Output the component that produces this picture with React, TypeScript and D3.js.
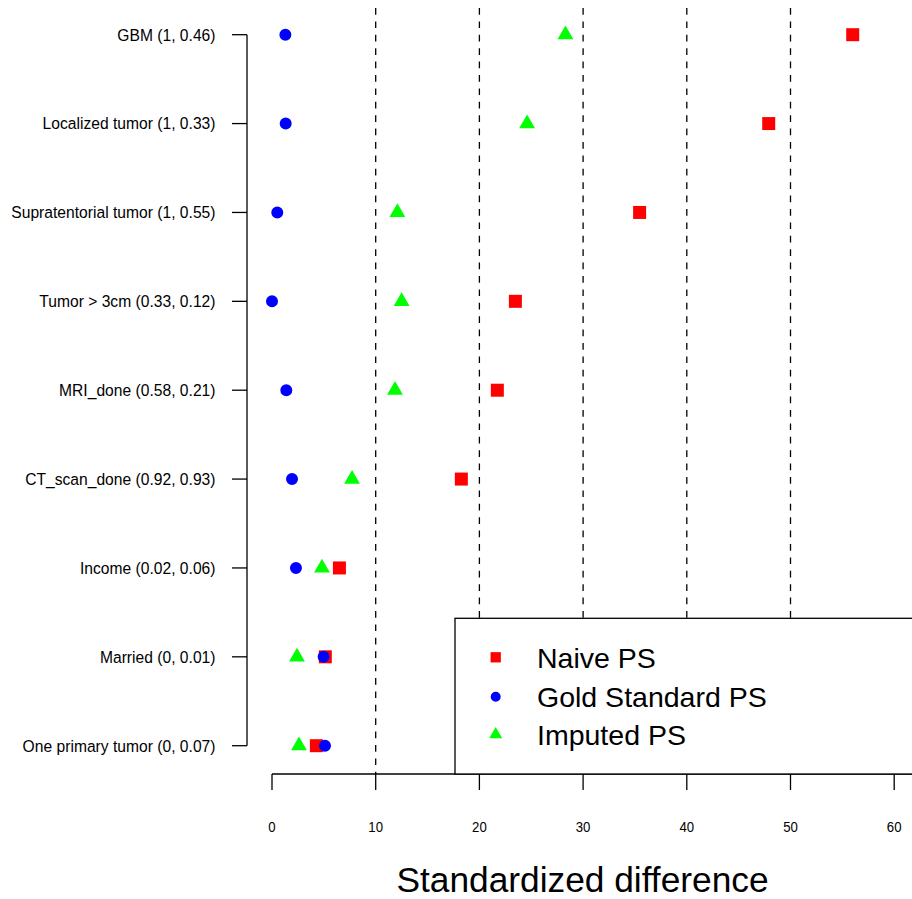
import React from "react";
import * as d3 from "d3";

const categories = [
  "GBM (1, 0.46)",
  "Localized tumor (1, 0.33)",
  "Supratentorial tumor (1, 0.55)",
  "Tumor > 3cm (0.33, 0.12)",
  "MRI_done (0.58, 0.21)",
  "CT_scan_done (0.92, 0.93)",
  "Income (0.02, 0.06)",
  "Married (0, 0.01)",
  "One primary tumor (0, 0.07)",
];
const naivePS = [56.0, 47.9, 35.45, 23.47, 21.73, 18.26, 6.5, 5.14, 4.28];
const goldPS = [1.29, 1.32, 0.51, 0.0, 1.38, 1.93, 2.31, 4.98, 5.11];
const imputedPS = [28.3, 24.6, 12.09, 12.5, 11.86, 7.72, 4.82, 2.41, 2.6];
const xTicks = [0, 10, 20, 30, 40, 50, 60];
const refLines = [10, 20, 30, 40, 50];
const legendLabels = ["Naive PS", "Gold Standard PS", "Imputed PS"];

const RED = "#FF0000";
const BLUE = "#0000FF";
const GREEN = "#00FF00";
const FONT = "'Liberation Sans', Arial, Helvetica, sans-serif";

export default function App() {
  const W = 912;
  const H = 899;
  const x = d3.scaleLinear().domain([0, 60]).range([272, 894.2]);
  const y = d3
    .scaleLinear()
    .domain([0, categories.length - 1])
    .range([34.7, 745.7]);
  const axisY = 774;
  const yAxisX = 247;
  const plotTop = 8;

  const sq = d3.symbol().type(d3.symbolSquare).size(169)();
  const circ = d3.symbol().type(d3.symbolCircle).size(113)();
  const tri = d3.symbol().type(d3.symbolTriangle).size(108.5)();
  const sqL = d3.symbol().type(d3.symbolSquare).size(106)();
  const circL = d3.symbol().type(d3.symbolCircle).size(78.5)();
  const triL = d3.symbol().type(d3.symbolTriangle).size(73)();

  const legendMarkers = [
    { path: sqL, color: RED },
    { path: circL, color: BLUE },
    { path: triL, color: GREEN },
  ];
  const legendY = [657.3, 696.7, 734.5];

  return (
    <svg
      width={W}
      height={H}
      style={{ display: "block", position: "absolute", left: 0, top: 0, background: "#fff" }}
      fontFamily={FONT}
    >
      <rect x={0} y={0} width={W} height={H} fill="#fff" />
      {refLines.map((v) => (
        <line
          key={"r" + v}
          x1={x(v)}
          x2={x(v)}
          y1={plotTop}
          y2={axisY}
          stroke="#000"
          strokeWidth={1.3}
          strokeDasharray="6.7,6.7"
        />
      ))}

      <line x1={yAxisX} x2={yAxisX} y1={y(0)} y2={y(categories.length - 1)} stroke="#000" strokeWidth={1.3} />
      {categories.map((c, i) => (
        <g key={c}>
          <line x1={yAxisX - 15} x2={yAxisX} y1={y(i)} y2={y(i)} stroke="#000" strokeWidth={1.3} />
          <text
            transform={`translate(215.5,${y(i) + 5.8}) scale(0.92,1)`}
            textAnchor="end"
            fontSize={17}
            fill="#000"
          >
            {c}
          </text>
        </g>
      ))}

      <line x1={x(0)} x2={W + 10} y1={axisY} y2={axisY} stroke="#000" strokeWidth={1.3} />
      {xTicks.map((t) => (
        <g key={"t" + t}>
          <line x1={x(t)} x2={x(t)} y1={axisY} y2={axisY + 16} stroke="#000" strokeWidth={1.3} />
          <text
            transform={`translate(${x(t)},832) scale(0.85,1)`}
            textAnchor="middle"
            fontSize={15.5}
            fill="#000"
          >
            {t}
          </text>
        </g>
      ))}
      <text x={582.5} y={892} textAnchor="middle" fontSize={35.3} fill="#000">
        Standardized difference
      </text>

      {naivePS.map((v, i) => (
        <path key={"n" + i} d={sq} transform={`translate(${x(v)},${y(i)})`} fill={RED} />
      ))}
      {goldPS.map((v, i) => (
        <path key={"g" + i} d={circ} transform={`translate(${x(v)},${y(i)})`} fill={BLUE} />
      ))}
      {imputedPS.map((v, i) => (
        <path key={"m" + i} d={tri} transform={`translate(${x(v)},${y(i)})`} fill={GREEN} />
      ))}

      <rect x={455} y={618.3} width={W} height={axisY - 618.3} fill="#fff" stroke="#000" strokeWidth={1.3} />
      {legendLabels.map((l, i) => (
        <g key={l}>
          <path d={legendMarkers[i].path} transform={`translate(495.7,${legendY[i]})`} fill={legendMarkers[i].color} />
          <text x={537} y={legendY[i] + 10.5} fontSize={28.5} fill="#000">
            {l}
          </text>
        </g>
      ))}
    </svg>
  );
}
